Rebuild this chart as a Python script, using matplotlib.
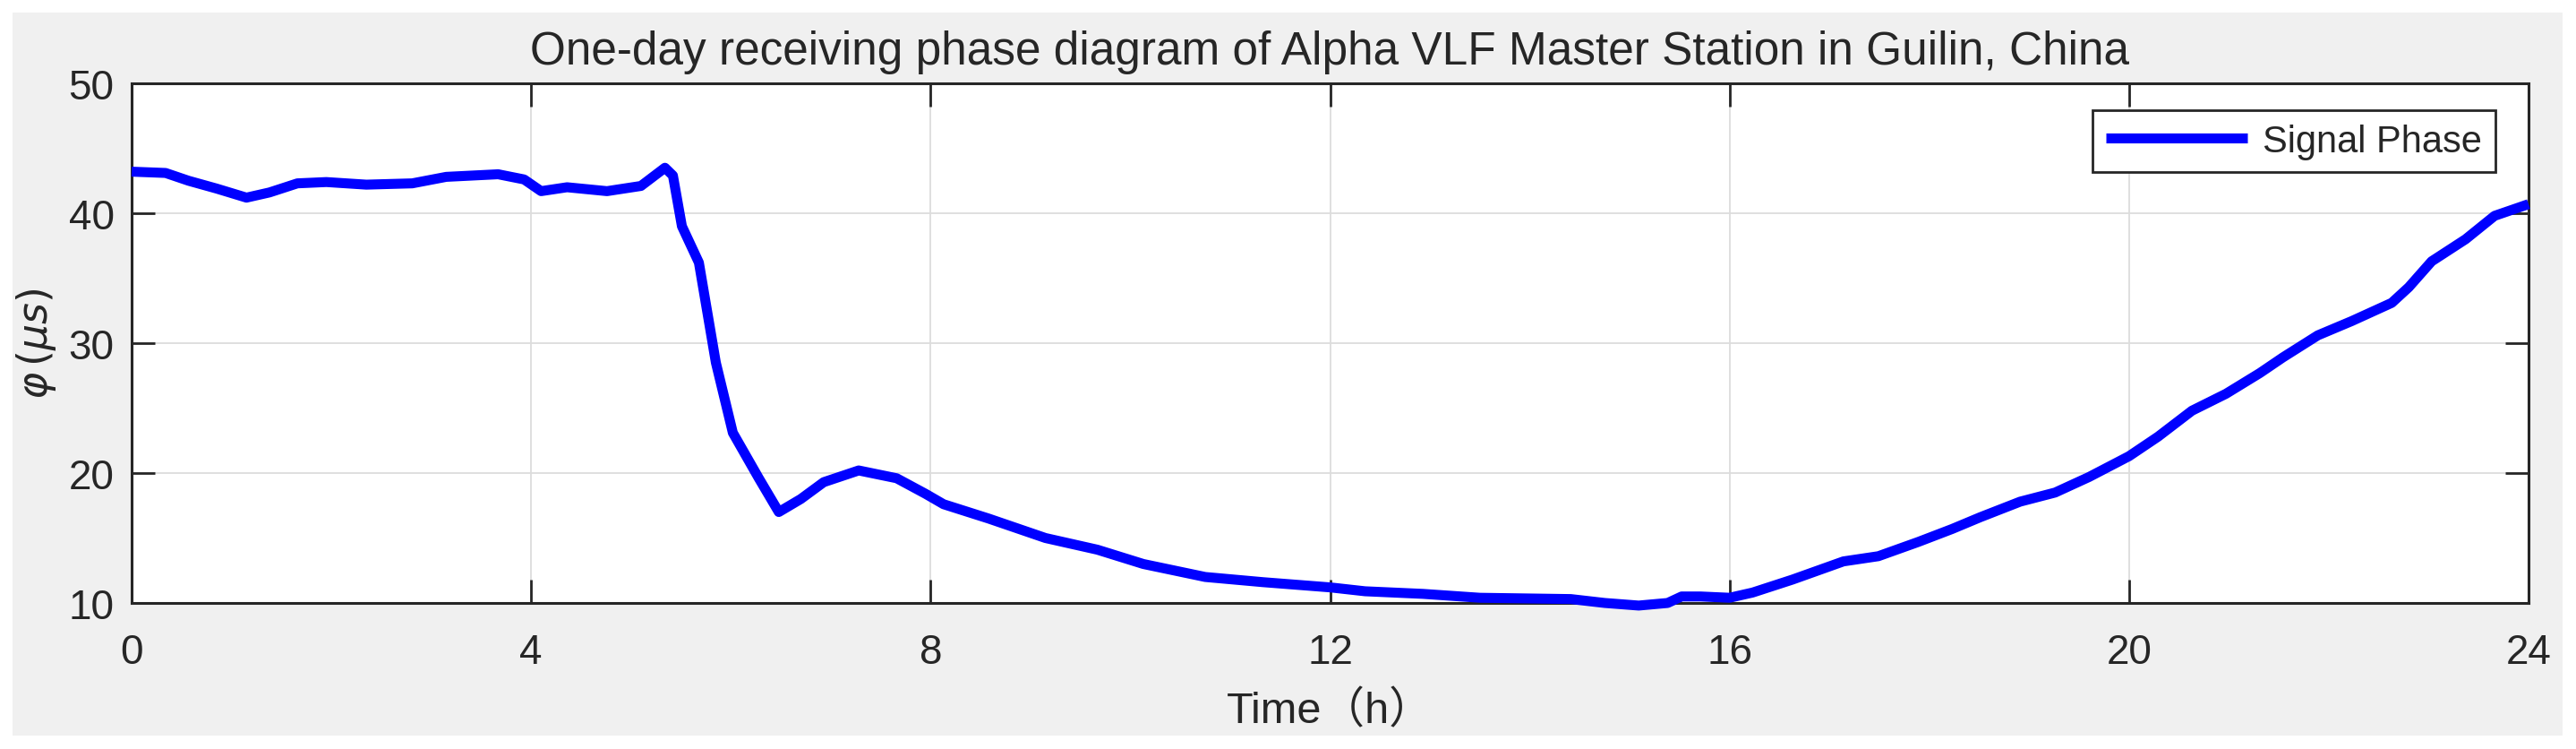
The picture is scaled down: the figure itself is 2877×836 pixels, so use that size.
import matplotlib
matplotlib.use("Agg")
import matplotlib.pyplot as plt
from matplotlib.patches import Rectangle

# time of day (h) and received phase (us)
hours = [0, 0.34, 0.57, 0.85, 1.15, 1.38, 1.66, 1.95, 2.35, 2.81,
         3.15, 3.67, 3.93, 4.1, 4.36, 4.76, 5.1, 5.34, 5.42, 5.51,
         5.68, 5.85, 6.02, 6.28, 6.48, 6.7, 6.93, 7.28, 7.66, 7.95,
         8.13, 8.58, 9.15, 9.67, 10.13, 10.75, 11.33, 12.0, 12.35, 12.93,
         13.5, 14.41, 14.75, 15.09, 15.38, 15.52, 15.71, 16.0, 16.23, 16.63,
         17.14, 17.49, 17.89, 18.23, 18.51, 18.91, 19.26, 19.6, 20.0, 20.29,
         20.63, 20.97, 21.31, 21.54, 21.89, 22.23, 22.63, 22.8, 23.03, 23.37,
         23.66, 24.0]
phase = [43.2, 43.1, 42.5, 41.9, 41.2, 41.6, 42.3, 42.4, 42.2, 42.3,
         42.8, 43.0, 42.6, 41.7, 42.0, 41.7, 42.1, 43.5, 42.9, 39.0,
         36.2, 28.5, 23.1, 19.6, 17.0, 18.0, 19.3, 20.2, 19.6, 18.4,
         17.6, 16.5, 15.0, 14.1, 13.0, 12.0, 11.6, 11.2, 10.9, 10.7,
         10.4, 10.3, 10.0, 9.8, 10.0, 10.5, 10.5, 10.4, 10.8, 11.8,
         13.2, 13.6, 14.7, 15.7, 16.6, 17.8, 18.5, 19.7, 21.3, 22.8,
         24.8, 26.1, 27.7, 28.9, 30.6, 31.7, 33.1, 34.3, 36.3, 38.0,
         39.8, 40.7]
x_ticks = [0, 4, 8, 12, 16, 20, 24]
y_ticks = [10, 20, 30, 40, 50]

fonts = ['Liberation Sans', 'Noto Sans CJK SC', 'DejaVu Sans']
plt.rcParams['font.family'] = fonts
plt.rcParams['mathtext.fontset'] = 'dejavusans'
txt = '#262626'

W, H = 2877, 837
fig = plt.figure(figsize=(W / 100, H / 100), dpi=100, facecolor='white')
# MATLAB-like grey figure panel with a thin white border
fig.patches.append(Rectangle((14 / W, 15 / H), (2862 - 14) / W, (822 - 15) / H,
                             transform=fig.transFigure, facecolor='#f0f0f0',
                             edgecolor='none', zorder=-10))

ax = fig.add_axes([147 / W, 1 - 674 / H, (2824 - 147) / W, (674 - 94) / H])
ax.set_facecolor('white')
ax.plot(hours, phase, color='#0000ff', lw=8, label='Signal Phase',
        clip_on=False, zorder=3, solid_joinstyle='round', solid_capstyle='butt')

ax.set_xlim(0, 24)
ax.set_ylim(10, 50)
ax.set_xticks(x_ticks)
ax.set_yticks(y_ticks)
ax.grid(True, color='#dcdcdc', lw=1.3)
ax.set_axisbelow(True)
ax.tick_params(direction='in', length=19, width=2, colors=txt,
               top=True, right=True, labelsize=33)
ax.tick_params(axis='x', pad=24)
ax.tick_params(axis='y', pad=14)
for s in ax.spines.values():
    s.set_color(txt)
    s.set_linewidth(2.2)

ax.set_title('One-day receiving phase diagram of Alpha VLF Master Station in Guilin, China',
             fontsize=37, color=txt, pad=16)
ax.set_xlabel('Time（h）', fontsize=35, color=txt, labelpad=14)
ax.set_ylabel(r'$\varphi\,(\mu s)$', fontsize=33, color=txt, labelpad=8)

leg = ax.legend(loc='upper right', bbox_to_anchor=(0.986, 0.948), fontsize=30,
                fancybox=False, framealpha=1, edgecolor=txt, handlelength=3.8,
                borderpad=0.35, handletextpad=0.4, borderaxespad=0)
leg.get_frame().set_linewidth(2)
leg.get_lines()[0].set_linewidth(8)
for t in leg.get_texts():
    t.set_color(txt)

fig.savefig('out.png', dpi=100, facecolor='white')
